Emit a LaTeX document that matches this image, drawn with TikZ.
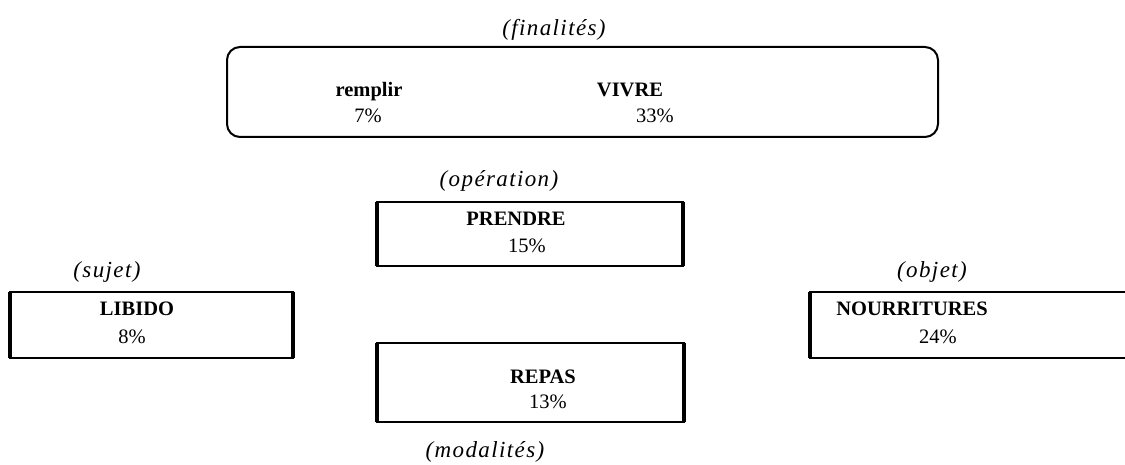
\documentclass[tikz,border=0pt]{standalone}
\usepackage{fontspec}
\setmainfont{Liberation Serif}
\tikzset{
  cadre/.style={draw,line width=1.8pt},
  cote/.style={line width=3.6pt},
  titre/.style={font=\bfseries,anchor=base,inner sep=0pt},
  taux/.style={anchor=base,inner sep=0pt},
  role/.style={font=\fontsize{23}{28}\selectfont\itshape\addfontfeature{LetterSpace=6},anchor=base,inner sep=0pt}
}
\begin{document}
\begin{tikzpicture}[x=1pt,y=-1pt]
    \fontsize{20.5}{26}\selectfont
    \useasboundingbox (0,0) rectangle (1125,465);
    \clip (0,0) rectangle (1125,465);
    % finalites
    \node[role] (fin) at (554,36) {(finalités)};
    \draw[cadre,line width=2pt,rounded corners=13pt] (227,47) rectangle (938,137);
    \node[titre] (remplir) at (369,97) {remplir};
    \node[taux] (premplir) at (368,123) {7\%};
    \node[titre] (vivre) at (630,97) {VIVRE};
    \node[taux] (pvivre) at (655,123) {33\%};
    % operation
    \node[role] (ope) at (499,187) {(opération)};
    \draw[cadre] (377,202) rectangle (683,266);
    \draw[cote] (377,202) -- (377,266) (683,202) -- (683,266);
    \node[titre] (prendre) at (516,226) {PRENDRE};
    \node[taux] (pprendre) at (527,253) {15\%};
    % sujet
    \node[role] (suj) at (107,278) {(sujet)};
    \draw[cadre] (10,292) rectangle (293,358);
    \draw[cote] (10,292) -- (10,358) (293,292) -- (293,358);
    \node[titre] (libido) at (137,316) {LIBIDO};
    \node[taux] (plibido) at (132,343) {8\%};
    % objet
    \node[role] (obj) at (932,278) {(objet)};
    \draw[cadre] (810,292) rectangle (1140,358);
    \draw[cote] (810,292) -- (810,358);
    \node[titre] (nourr) at (912,316) {NOURRITURES};
    \node[taux] (pnourr) at (938,343) {24\%};
    % modalites
    \draw[cadre] (377,343) rectangle (684,422);
    \draw[cote] (377,343) -- (377,422) (684,343) -- (684,422);
    \node[titre] (repas) at (543,383) {REPAS};
    \node[taux] (prepas) at (548,408) {13\%};
    \node[role] (moda) at (485,457) {(modalités)};
\end{tikzpicture}
\end{document}
